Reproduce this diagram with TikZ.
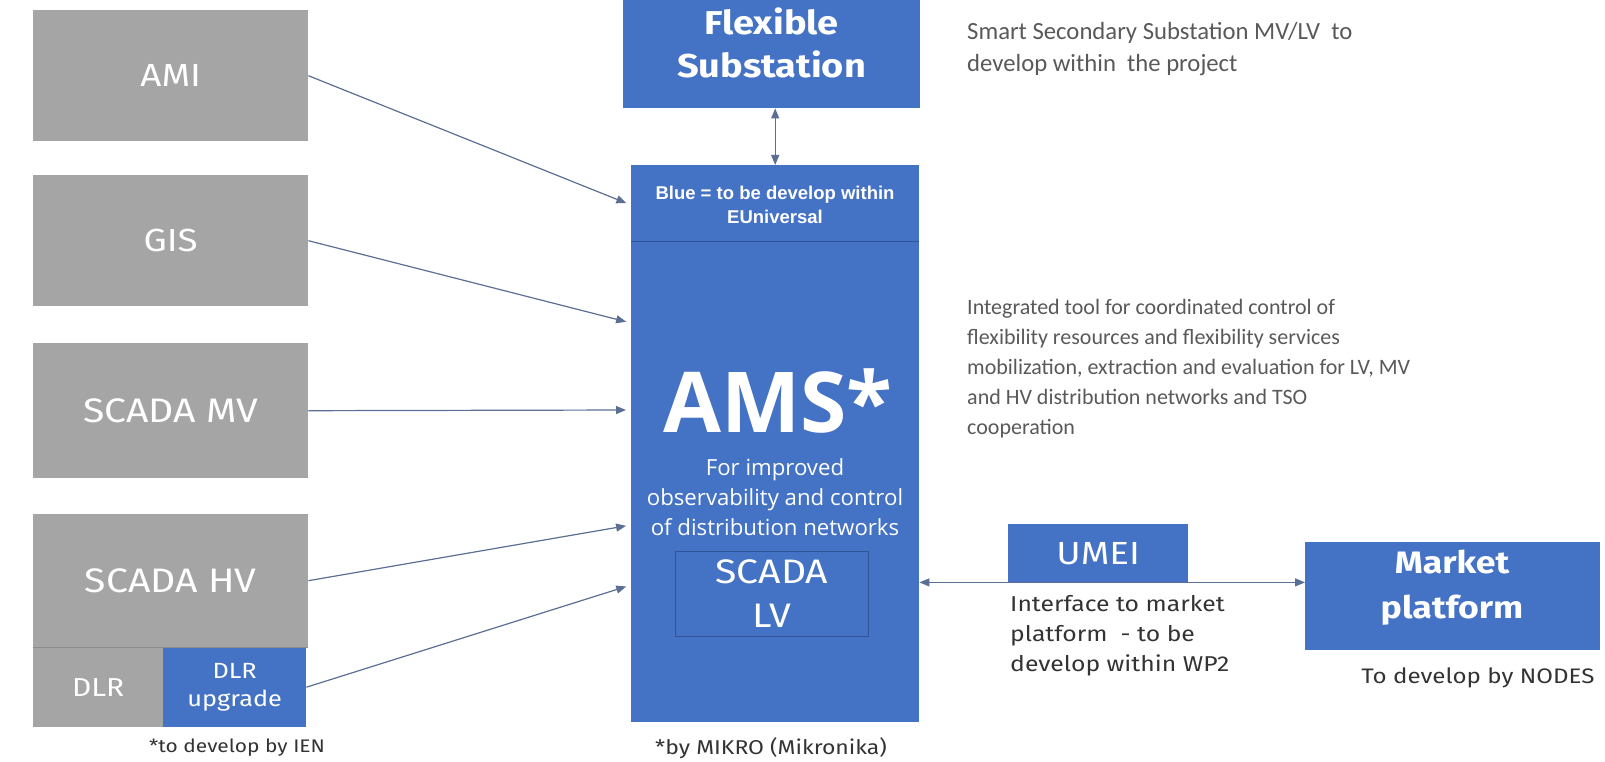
\documentclass[tikz,border=0pt]{standalone}
\usepackage{fontspec}
\setmainfont{Open Sans}
\newfontfamily\din[FakeStretch=1.15]{Fira Sans}
\newfontfamily\calib{Carlito}
\newfontfamily\arialfam{Liberation Sans}
\usetikzlibrary{arrows.meta,calc}

\definecolor{boxblue}{HTML}{4472C4}
\definecolor{boxgray}{HTML}{A5A5A5}
\definecolor{linkcol}{HTML}{5A6F93}
\definecolor{edgeblue}{HTML}{2F5597}
\definecolor{notegray}{HTML}{595959}
\definecolor{labeldark}{HTML}{333333}
\definecolor{seamgray}{HTML}{8C8C8C}

\newcommand{\fsz}[2]{\fontsize{#1pt}{#2pt}\selectfont}

\tikzset{
  block/.style={inner sep=0pt, anchor=north west, text=white, align=center},
  greybox/.style={block, fill=boxgray},
  bluebox/.style={block, fill=boxblue},
  boxlabel/.style={font=\din\fsz{32}{38}},
  widelabel/.style={font=\din\fsz{34}{40}},
  tip/.tip={Triangle[length=10pt,width=8pt]},
  link/.style={draw=linkcol, line width=1.2pt, -tip, shorten >=5pt},
  twoway/.style={draw=linkcol, line width=1.2pt, tip-tip},
  note/.style={inner sep=0pt, text=notegray, align=left, anchor=west},
  darknote/.style={inner sep=0pt, font=\din\fsz{21.5}{30}, text=labeldark, align=left},
}

\begin{document}
\begin{tikzpicture}[x=1pt,y=-1pt]
\useasboundingbox (0,0) rectangle (1605,762);

% data sources on the left
\node[greybox, boxlabel, minimum width=275pt, minimum height=131pt] (ami) at (33,10) {AMI};
\node[greybox, boxlabel, minimum width=275pt, minimum height=131pt] (gis) at (33,175) {GIS};
\node[greybox, widelabel, minimum width=275pt, minimum height=135pt] (mv) at (33,343) {SCADA MV};
\node[greybox, widelabel, minimum width=275pt, minimum height=133pt] (hv) at (33,514) {SCADA HV};
\node[greybox, font=\din\fsz{26}{30}, minimum width=130pt, minimum height=80pt] (dlr) at (33,647) {DLR};
\node[bluebox, font=\din\fsz{22}{28}, minimum width=143pt, minimum height=80pt] (dlrup) at (163,647) {DLR\\upgrade};
\draw[seamgray, line width=1pt] (hv.south west) -- (hv.south east);
\node[darknote, font=\din\fsz{18.2}{22}] (ien) at (237,748) {*to develop by IEN};

% flexible substation
\node[bluebox, minimum width=297pt, minimum height=108pt] (flex) at (623,0) {};
\node[font=\din\bfseries\fsz{33}{43}, text=white, align=center] (flexlbl) at (771.5,43) {Flexible\\Substation};

% central AMS block
\node[bluebox, minimum width=288pt, minimum height=557pt] (ams) at (631,165) {};
\draw[edgeblue, line width=0.8pt] (ams.west |- 0,241) -- (ams.east |- 0,241);
\node[font=\arialfam\bfseries\fsz{18.5}{24}, text=white, align=center] (hdr) at (775,205) {Blue = to be develop within\\EUniversal};
\node[font=\bfseries\fsz{84}{90}, text=white, anchor=base] (amsname) at (778,432) {AMS*};
\node[font=\fsz{22.2}{30}, text=white, align=center] (amsdesc) at (775,497) {For improved\\observability and control\\of distribution networks};
\node[block, draw=edgeblue, line width=0.8pt, minimum width=193pt, minimum height=85pt, font=\din\fsz{34}{44}] (scadalv) at (675,551) {SCADA\\LV};
\node[darknote, font=\din\fsz{20}{24}] (mikro) at (771,748) {*by MIKRO (Mikronika)};

% market side
\node[bluebox, boxlabel, minimum width=180pt, minimum height=58pt] (umei) at (1008,524) {UMEI};
\node[bluebox, minimum width=295pt, minimum height=108pt] (market) at (1305,542) {};
\node[font=\din\bfseries\fsz{31}{45}, text=white, align=center] (marketlbl) at (1452,588) {Market\\platform};
\node[darknote, anchor=west] (umeinote) at (1010,636) {Interface to market\\platform\ \ - to be\\develop within WP2};
\node[darknote, font=\din\fsz{21}{25}] (marketnote) at (1478,678) {To develop by NODES};

% explanatory notes
\node[note, font=\calib\fsz{24.7}{32}] (smartnote) at (967,49) {Smart Secondary Substation MV/LV\ \ to\\develop within\ \ the project};
\node[note, font=\calib\fsz{22}{30}] (toolnote) at (967,369) {Integrated tool for coordinated control of\\flexibility resources and flexibility services\\mobilization, extraction and evaluation for LV, MV\\and HV distribution networks and TSO\\cooperation};

% connectors
\draw[link] (ami.east) -- ($(ams.north west)+(0,40)$);
\draw[link] (gis.east) -- ($(ams.north west)+(0,158)$);
\draw[link] (mv.east) -- ($(ams.north west)+(0,245)$);
\draw[link] (hv.east) -- ($(ams.north west)+(0,360)$);
\draw[link] (dlrup.east) -- ($(ams.north west)+(0,420)$);
\draw[twoway] (flex.south -| ams.north) -- (ams.north);
\draw[twoway] (ams.east |- umei.south) -- (market.west |- umei.south);
\end{tikzpicture}
\end{document}
